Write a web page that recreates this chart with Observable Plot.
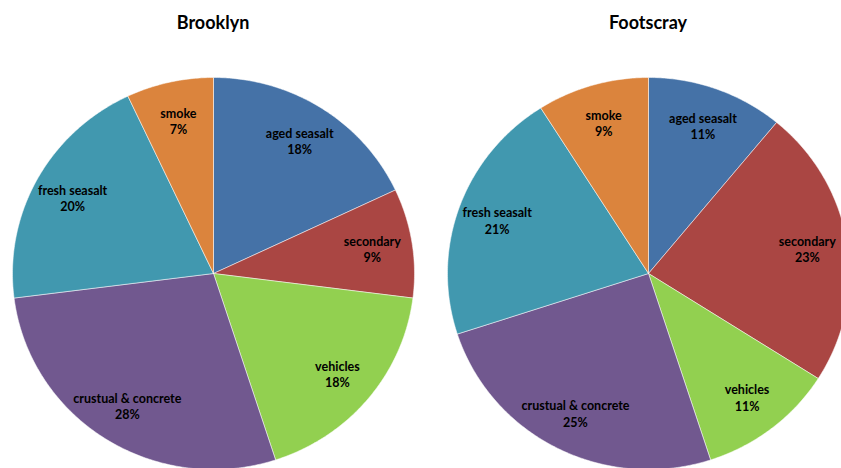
<!DOCTYPE html>
<html>
<head>
<meta charset="utf-8">
<script src="https://cdn.jsdelivr.net/npm/d3@7"></script>
<script src="https://cdn.jsdelivr.net/npm/@observablehq/plot@0.6"></script>
<style>
  html, body { margin: 0; padding: 0; background: #fff; overflow: hidden; width: 841px; height: 468px; }
  #wrap { display: flex; width: 870px; }
  .col { width: 435px; flex: none; }
  .title { width: 426px; height: 44px; line-height: 44px; text-align: center; font-family: Lato, "Open Sans", sans-serif; font-weight: bold; font-size: 18px; color: #000; }
  .col svg { max-width: none !important; }
</style>
</head>
<body>
<div id="wrap"></div>
<script>
const categories = ["aged seasalt", "secondary", "vehicles", "crustual & concrete", "fresh seasalt", "smoke"];
const brooklynValues = [18, 9, 18, 28, 20, 7];
const footscrayValues = [11, 23, 11, 25, 21, 9];
const sites = ["Brooklyn", "Footscray"];
const colors = ["#4572A7", "#AA4643", "#92D050", "#71588F", "#4198AF", "#DB843D"];

// layout
const colW = 435, H = 468, titleH = 44;
const cx = 213, cy = 229, rx = 201, ry = 196;
const labelR = 0.8;

function makePie(site, values) {
  const arcs = d3.pie().sort(null).value(d => d)(values);
  const pts = [];
  const labels = [];
  arcs.forEach((a, i) => {
    const key = categories[i];
    pts.push({key, x: 0, y: 0});
    const n = Math.max(2, Math.ceil((a.endAngle - a.startAngle) / 0.01));
    for (let k = 0; k <= n; k++) {
      const t = a.startAngle + (a.endAngle - a.startAngle) * k / n;
      pts.push({key, x: Math.sin(t), y: Math.cos(t)});
    }
    pts.push({key, x: 0, y: 0});
    const mid = (a.startAngle + a.endAngle) / 2;
    labels.push({x: labelR * Math.sin(mid), y: labelR * Math.cos(mid), text: `${key}\n${values[i]}%`});
  });

  const col = document.createElement("div");
  col.className = "col";
  const title = document.createElement("div");
  title.className = "title";
  title.textContent = site;
  col.appendChild(title);

  const chart = Plot.plot({
    width: colW,
    height: H - titleH,
    margin: 0,
    x: {axis: null, domain: [-1, 1], range: [cx - rx, cx + rx]},
    y: {axis: null, domain: [-1, 1], range: [cy + ry, cy - ry]},
    color: {domain: categories, range: colors},
    style: {fontFamily: "Lato, 'Open Sans', sans-serif", fontSize: "12.5px", overflow: "visible", background: "transparent"},
    marks: [
      Plot.line(pts, {x: "x", y: "y", z: "key", fill: "key", stroke: "#ffffff", strokeWidth: 0.6, strokeOpacity: 0.85}),
      Plot.text(labels, {x: "x", y: "y", text: "text", fontWeight: "bold", fill: "#000", lineHeight: 1.3})
    ]
  });
  col.appendChild(chart);
  document.getElementById("wrap").appendChild(col);
}

makePie(sites[0], brooklynValues);
makePie(sites[1], footscrayValues);
</script>
</body>
</html>
